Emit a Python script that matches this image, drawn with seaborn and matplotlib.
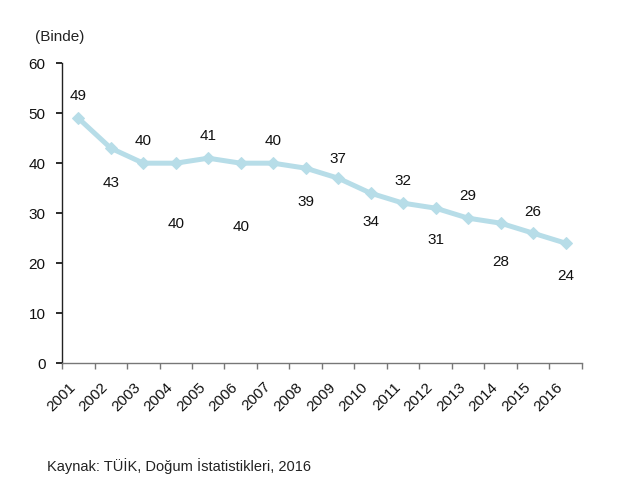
import numpy as np
import pandas as pd
import matplotlib
matplotlib.use("Agg")
import matplotlib.pyplot as plt
import seaborn as sns

years = [str(y) for y in range(2001, 2017)]
rates = [49, 43, 40, 40, 41, 40, 40, 39, 37, 34, 32, 31, 29, 28, 26, 24]
# label offsets in points (positive = above the point)
label_offsets = [16, -25, 16, -44, 16, -46, 16, -24, 14, -21, 16, -23, 16, -28, 15, -24]

sns.set_theme(style="white")
plt.rcParams['font.family'] = ['Liberation Sans', 'DejaVu Sans']

df = pd.DataFrame({"pos": np.arange(len(years)), "rate": rates})

fig = plt.figure(figsize=(6.4, 4.79), dpi=100)
ax = fig.add_axes([0.097, 0.242, 0.812, 0.626])

sns.lineplot(data=df, x="pos", y="rate", ax=ax, color="#b7dde8", linewidth=3.6,
             marker="D", markersize=6.5, markeredgecolor="#b7dde8")

for x, v, off in zip(df["pos"], rates, label_offsets):
    ax.annotate(str(v), (x, v), xytext=(0, off), textcoords="offset points",
                ha="center", va="center", fontsize=11, color="#111111")

ax.set_xlim(-0.5, len(years) - 0.5)
ax.set_ylim(0, 60)
ax.set_yticks(range(0, 61, 10))
ax.set_xticks(df["pos"])
ax.set_xticklabels(years, rotation=45, ha="right", rotation_mode="default")
ax.set_xticks(np.arange(-0.5, len(years), 1), minor=True)
ax.tick_params(axis="x", which="major", length=0, pad=12, labelsize=11, colors="#111111")
ax.tick_params(axis="x", which="minor", length=4, direction="out", color="#777777", bottom=True)
ax.tick_params(axis="y", length=4, direction="out", labelsize=11, colors="#111111",
               left=True, pad=8)
ax.set_xlabel("")
ax.set_ylabel("")
for s in ["top", "right"]:
    ax.spines[s].set_visible(False)
ax.spines["left"].set_color("#222222")
ax.spines["bottom"].set_color("#777777")
ax.spines["left"].set_linewidth(1.0)
ax.spines["bottom"].set_linewidth(1.0)

fig.text(0.055, 0.922, "(Binde)", fontsize=11, color="#222222", va="center")
fig.text(0.073, 0.027, "Kaynak: TÜİK, Doğum İstatistikleri, 2016", fontsize=10.5,
         color="#222222", va="center")

fig.savefig("out.png", dpi=100)
